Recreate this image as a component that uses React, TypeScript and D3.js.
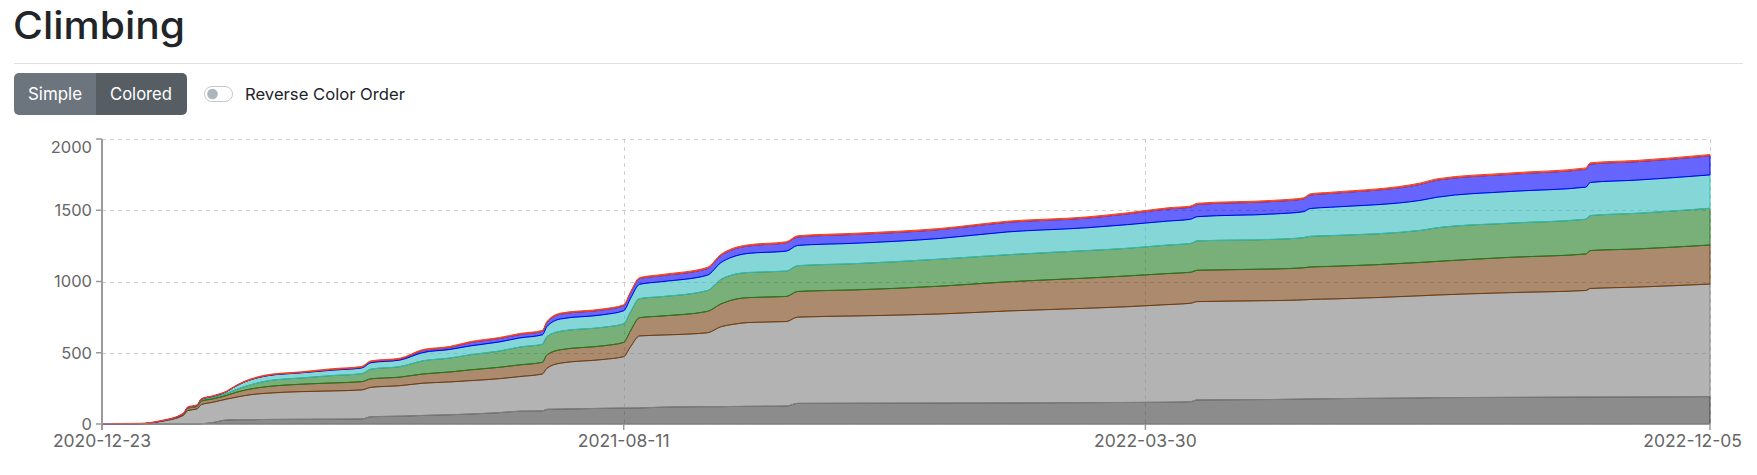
import React from "react";
import * as d3 from "d3";

// ---------- data ----------
const dates = [
  "2020-12-23", "2021-01-09", "2021-01-18", "2021-01-28", "2021-01-30", "2021-02-03", "2021-02-05",
  "2021-02-10", "2021-02-16", "2021-02-21", "2021-02-27", "2021-03-06", "2021-03-21", "2021-04-04",
  "2021-04-17", "2021-04-21", "2021-05-04", "2021-05-14", "2021-05-26", "2021-06-04", "2021-06-17",
  "2021-06-26", "2021-07-06", "2021-07-08", "2021-07-14", "2021-08-02", "2021-08-11", "2021-08-14",
  "2021-08-18", "2021-08-28", "2021-09-17", "2021-09-23", "2021-09-28", "2021-10-05", "2021-10-22",
  "2021-10-27", "2021-11-21", "2021-12-29", "2022-01-28", "2022-03-04", "2022-03-22", "2022-04-09",
  "2022-04-19", "2022-04-22", "2022-05-26", "2022-06-08", "2022-06-11", "2022-06-20", "2022-07-30",
  "2022-08-06", "2022-09-08", "2022-10-11", "2022-10-13", "2022-11-02", "2022-12-05",
];
const darkGray = [0, 0, 0, 0, 0, 0, 2, 10, 28, 30, 30, 32, 33, 34, 35, 51, 55, 60, 65, 70, 80, 90, 92, 103, 105, 110, 112, 112, 113, 118, 122, 122, 123, 124, 126, 145, 146, 147, 148, 150, 151, 153, 157, 169, 172, 175, 176, 178, 183, 185, 187, 189, 189, 190, 192];
const lightGray = [0, 2, 18, 60, 95, 105, 134, 142, 146, 160, 176, 184, 194, 198, 204, 206, 214, 226, 230, 234, 238, 243, 259, 288, 322, 343, 361, 430, 505, 506, 518, 560, 575, 588, 593, 605, 612, 625, 645, 662, 672, 685, 690, 690, 694, 696, 698, 699, 717, 720, 735, 748, 762, 770, 790];
const brown = [0, 0, 2, 10, 16, 18, 24, 24, 26, 35, 40, 46, 52, 56, 58, 60, 60, 65, 70, 76, 80, 82, 82, 94, 94, 96, 100, 112, 128, 134, 150, 160, 172, 175, 176, 180, 183, 195, 205, 212, 216, 218, 218, 220, 222, 225, 228, 229, 234, 236, 248, 256, 266, 268, 274];
const green = [0, 0, 0, 2, 4, 5, 10, 12, 14, 20, 30, 40, 44, 52, 56, 68, 74, 92, 98, 106, 114, 125, 127, 128, 130, 130, 130, 132, 134, 136, 146, 172, 176, 176, 178, 181, 184, 190, 190, 193, 194, 200, 202, 206, 208, 212, 215, 216, 225, 236, 240, 244, 246, 250, 258];
const cyan = [0, 0, 0, 0, 2, 2, 4, 6, 12, 28, 36, 36, 36, 38, 40, 45, 46, 58, 60, 62, 64, 64, 66, 70, 86, 88, 92, 95, 100, 105, 108, 118, 125, 134, 140, 142, 143, 145, 160, 160, 166, 168, 170, 170, 178, 182, 195, 199, 211, 214, 222, 225, 232, 233, 234];
const blue = [0, 0, 0, 0, 0, 0, 0, 0, 0, 0, 0, 2, 2, 4, 5, 7, 7, 14, 14, 23, 24, 24, 24, 29, 34, 34, 35, 38, 40, 42, 47, 50, 52, 52, 58, 60, 62, 62, 67, 68, 75, 85, 85, 86, 88, 89, 95, 97, 113, 120, 121, 126, 129, 129, 134];
const red = [3, 3, 4, 4, 4, 4, 4, 4, 4, 4, 5, 5, 5, 6, 6, 6, 6, 7, 7, 7, 7, 7, 7, 7, 7, 7, 7, 7, 7, 8, 8, 8, 8, 8, 8, 8, 8, 8, 8, 8, 8, 8, 8, 8, 8, 8, 8, 8, 9, 9, 9, 9, 9, 9, 9];

const seriesKeys = ["darkGray", "lightGray", "brown", "green", "cyan", "blue", "red"];
const seriesValues = [darkGray, lightGray, brown, green, cyan, blue, red];
const seriesColors = ["#404040", "#808080", "#733c0d", "#207b20", "#34bbbb", "#0000ff", "#f0401e"];

const yTicks = [0, 500, 1000, 1500, 2000];
const xTickLabels = ["2020-12-23", "2021-08-11", "2022-03-30", "2022-12-05"];
const yDomain = [0, 2000];
const xDomain = ["2020-12-23", "2022-12-05"];

const W = 1757;
const H = 475;
const FONT = "Inter, 'Noto Sans', 'DejaVu Sans', sans-serif";

export default function App() {
  const parse = d3.utcParse("%Y-%m-%d");
  const margin = { left: 102, right: 1710, top: 139, bottom: 424 };

  const x = d3
    .scaleUtc()
    .domain(xDomain.map((d) => parse(d) as Date))
    .range([margin.left, margin.right]);
  const y = d3.scaleLinear().domain(yDomain).range([margin.bottom, margin.top]);

  const table = dates.map((d, i) => {
    const row: any = { date: parse(d) };
    seriesKeys.forEach((k, j) => (row[k] = seriesValues[j][i]));
    return row;
  });
  const stacked = d3.stack<any>().keys(seriesKeys)(table);
  const area = d3
    .area<any>()
    .x((d) => x(d.data.date))
    .y0((d) => y(d[0]))
    .y1((d) => y(d[1]))
    .curve(d3.curveMonotoneX);

  const gridColor = "#cfcfcf";
  const axisColor = "#9a9a9a";
  const labelColor = "#666666";

  return (
    <div style={{ position: "absolute", left: 0, top: 0 }}>
      <svg width={W} height={H} style={{ display: "block" }}>
        <rect width={W} height={H} fill="#ffffff" />
        {/* header */}
        <text x={13} y={39} fontSize={38} fontWeight={500} fill="#212529" fontFamily={FONT} textLength={172} lengthAdjust="spacingAndGlyphs">
          Climbing
        </text>
        <line x1={14} x2={1743} y1={63.5} y2={63.5} stroke="#dee2e6" strokeWidth={1} />

        <defs>
          <clipPath id="btnclip">
            <rect x={14} y={73} width={173} height={42} rx={5} />
          </clipPath>
        </defs>
        <g clipPath="url(#btnclip)">
          <rect x={14} y={73} width={82} height={42} fill="#6c757d" />
          <rect x={96} y={73} width={91} height={42} fill="#565e64" />
        </g>
        <text x={28} y={100} fontSize={17} fill="#ffffff" fontFamily={FONT} textLength={54} lengthAdjust="spacingAndGlyphs">
          Simple
        </text>
        <text x={110} y={100} fontSize={17} fill="#ffffff" fontFamily={FONT} textLength={62} lengthAdjust="spacingAndGlyphs">
          Colored
        </text>

        <rect x={204.5} y={86.5} width={28} height={15} rx={7.5} fill="#ffffff" stroke="#c3c8ce" strokeWidth={1} />
        <circle cx={212.5} cy={94} r={5.3} fill="#adb5bd" />
        <text x={245} y={100} fontSize={16.5} fill="#212529" fontFamily={FONT} textLength={160} lengthAdjust="spacingAndGlyphs">
          Reverse Color Order
        </text>

        {/* grid */}
        <g stroke={gridColor} strokeWidth={1} strokeDasharray="4 4">
          {yTicks
            .filter((t) => t > 0)
            .map((t) => (
              <line key={"gy" + t} x1={margin.left} x2={margin.right} y1={Math.round(y(t)) + 0.5} y2={Math.round(y(t)) + 0.5} />
            ))}
          {xTickLabels.slice(1).map((t) => {
            const px = Math.round(x(parse(t) as Date)) + 0.5;
            return <line key={"gx" + t} x1={px} x2={px} y1={margin.top} y2={margin.bottom} />;
          })}
        </g>

        {/* areas */}
        {stacked.map((s, i) => (
          <path
            key={s.key}
            d={area(s) || ""}
            fill={seriesColors[i]}
            fillOpacity={0.6}
            stroke={seriesColors[i]}
            strokeWidth={1}
            strokeLinejoin="round"
          />
        ))}

        {/* axes */}
        <line x1={margin.left} x2={margin.left} y1={margin.top} y2={margin.bottom + 6} stroke={axisColor} strokeWidth={2} />
        <line x1={margin.left} x2={margin.right} y1={margin.bottom} y2={margin.bottom} stroke={axisColor} strokeWidth={1} />
        {yTicks.map((t) => (
          <g key={"yt" + t}>
            <line x1={margin.left - 6} x2={margin.left} y1={y(t)} y2={y(t)} stroke={axisColor} strokeWidth={1.5} />
            <text
              x={margin.left - 10}
              y={t === yDomain[1] ? y(t) + 8 : y(t)}
              dy="0.35em"
              textAnchor="end"
              fontSize={16.5}
              fill={labelColor}
              fontFamily={FONT}
            >
              {t}
            </text>
          </g>
        ))}
        {xTickLabels.map((t, i) => {
          const px = x(parse(t) as Date);
          const last = i === xTickLabels.length - 1;
          return (
            <g key={"xt" + t}>
              <line x1={px} x2={px} y1={margin.bottom} y2={margin.bottom + 6} stroke={axisColor} strokeWidth={1.5} />
              <text
                x={last ? 1742 : px}
                y={447}
                textAnchor={last ? "end" : "middle"}
                fontSize={17.5}
                fill={labelColor}
                fontFamily={FONT}
              >
                {t}
              </text>
            </g>
          );
        })}
      </svg>
    </div>
  );
}
